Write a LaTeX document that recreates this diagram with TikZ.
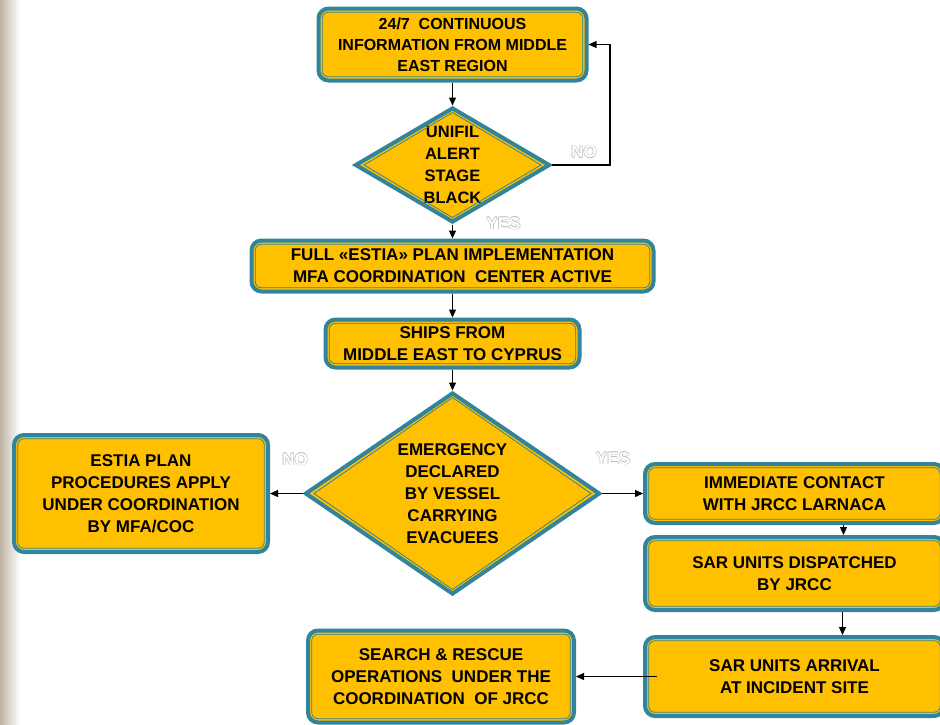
\documentclass[tikz,border=0pt]{standalone}
\usepackage{fontspec}
\setmainfont{Liberation Sans}
\usetikzlibrary{positioning,shapes.geometric,arrows.meta}
\definecolor{boxgold}{HTML}{FFC000}
\definecolor{boxteal}{HTML}{31849B}
\definecolor{stone}{RGB}{190,180,164}
\newcommand{\hollow}[1]{{\color{gray!55}\rlap{\kern-.6pt#1}\rlap{\kern.6pt#1}\rlap{\raisebox{.6pt}{#1}}\rlap{\raisebox{-.6pt}{#1}}}#1}
\tikzset{
  rim/.style={draw=boxteal,line width=0.8pt},
  box/.style={rectangle,rounded corners=10pt,draw=boxteal,line width=4pt,fill=boxgold,
    align=center,inner sep=0pt,font=\bfseries\fontsize{17}{22}\selectfont},
  decision/.style={diamond,draw=boxteal,line width=4pt,fill=boxgold,
    align=center,inner sep=0pt,font=\bfseries\fontsize{17}{22}\selectfont},
  answer/.style={text=white,font=\bfseries\fontsize{17}{22}\selectfont},
  flow/.style={->,line width=1.2pt},
  >={Triangle[length=8pt,width=7pt]}
}

\begin{document}
\begin{tikzpicture}
  \useasboundingbox (0,0) rectangle (940pt,-724pt);
  \shade[left color=stone,right color=white] (0,0) rectangle (20pt,-724pt);

  \node[box,minimum width=268pt,minimum height=72pt,font=\bfseries\fontsize{16}{21}\selectfont] (info) at (452.5pt,-44.5pt) {24/7\ \ CONTINUOUS\\INFORMATION FROM MIDDLE\\EAST REGION};
  \node[decision,shape aspect=1.7,minimum width=195pt,minimum height=115pt,font=\bfseries\fontsize{16.5}{22}\selectfont] (unifil) [below=23pt of info] {UNIFIL\\ALERT\\STAGE\\BLACK};
  \node[box,minimum width=402pt,minimum height=51pt] (estia) [below=14pt of unifil] {FULL «ESTIA» PLAN IMPLEMENTATION\\MFA COORDINATION\ \ CENTER ACTIVE};
  \node[box,minimum width=254pt,minimum height=48pt] (ships) [below=24pt of estia] {SHIPS FROM\\MIDDLE EAST TO CYPRUS};
  \node[decision,shape aspect=1.45,minimum width=295pt,minimum height=202pt] (emergency) [below=21pt of ships] {EMERGENCY\\DECLARED\\BY VESSEL\\CARRYING\\EVACUEES};
  \node[box,minimum width=254pt,minimum height=117pt] (procedures) [left=33pt of emergency] {ESTIA PLAN\\PROCEDURES APPLY\\UNDER COORDINATION\\BY MFA/COC};
  \node[box,minimum width=299pt,minimum height=59pt] (contact) [right=41pt of emergency] {IMMEDIATE CONTACT\\WITH JRCC LARNACA};
  \node[box,minimum width=299pt,minimum height=73pt] (dispatch) [below=10pt of contact] {SAR UNITS DISPATCHED\\BY JRCC};
  \node[box,minimum width=299pt,minimum height=79pt] (arrival) [below=23pt of dispatch] {SAR UNITS ARRIVAL\\AT INCIDENT SITE};
  \node[box,minimum width=266pt,minimum height=92pt] (rescue) [left=67pt of arrival] {SEARCH \& RESCUE\\OPERATIONS\ \ UNDER THE\\COORDINATION\ \ OF JRCC};

  % thin inner rims
  \foreach \n in {info,estia,ships,procedures,contact,dispatch,arrival,rescue}
    \draw[rim,rounded corners=6pt] ([shift={(5.8pt,5.8pt)}]\n.south west) rectangle ([shift={(-5.8pt,-5.8pt)}]\n.north east);
  \foreach \n in {unifil,emergency}
    \draw[rim] ([yshift=-7pt]\n.north) -- ([xshift=-11pt]\n.east) -- ([yshift=7pt]\n.south) -- ([xshift=11pt]\n.west) -- cycle;

  % yes / no answers
  \node[answer] (no_unifil) at ([shift={(32pt,13pt)}]unifil.east) {\hollow{NO}};
  \node[answer] (yes_unifil) at ([shift={(51pt,1pt)}]unifil.south) {\hollow{YES}};
  \node[answer] (no_emergency) at ([shift={(-8pt,34pt)}]emergency.west) {\hollow{NO}};
  \node[answer] (yes_emergency) at ([shift={(11pt,35pt)}]emergency.east) {\hollow{YES}};

  \draw[flow] (info.south) -- (unifil.north);
  \draw[flow] (unifil.east) -- ++(58pt,0) |- (info.east);
  \draw[flow] (unifil.south) -- (estia.north);
  \draw[flow] (estia.south) -- (ships.north);
  \draw[flow] (ships.south) -- (emergency.north);
  \draw[flow] (emergency.west) -- (procedures.east);
  \draw[flow] (emergency.east) -- (contact.west);
  \draw[flow] ([xshift=49pt]contact.south) -- ([xshift=49pt]dispatch.north);
  \draw[flow] ([xshift=48pt]dispatch.south) -- ([xshift=48pt]arrival.north);
  \draw[flow] ([xshift=14pt]arrival.west) -- (rescue.east);
\end{tikzpicture}
\end{document}
